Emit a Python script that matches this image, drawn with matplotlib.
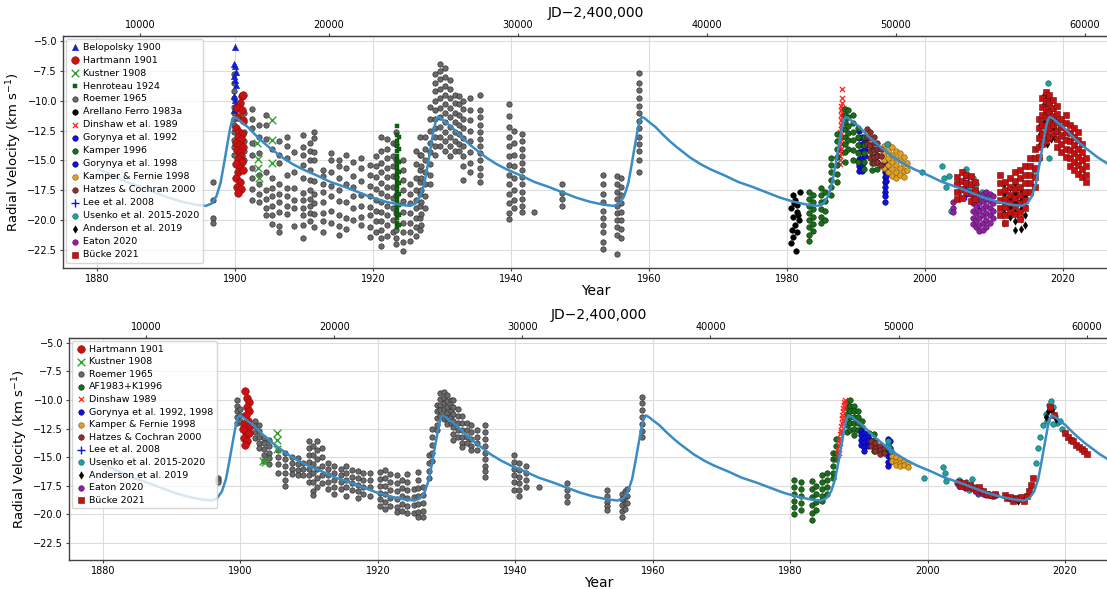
import matplotlib.pyplot as plt

# ---------------- model orbit curve (one cycle) ----------------
cyc_dt = [0.0, 0.5, 1.0, 2.0, 3.0, 4.0, 5.0, 6.0, 7.0, 8.5, 10.0, 12.0, 14.0, 16.0,
          18.0, 20.0, 22.0, 24.0, 25.5, 26.3, 27.0, 27.6, 28.1, 28.6, 29.0, 29.3, 29.55]
cyc_rv = [-11.35, -11.5, -11.75, -12.2, -12.8, -13.35, -13.85, -14.3, -14.75, -15.3,
          -15.75, -16.25, -16.8, -17.2, -17.65, -18.1, -18.45, -18.7, -18.8, -18.6,
          -18.0, -16.9, -15.3, -13.6, -12.3, -11.6, -11.35]
peaks = [1870.3, 1899.85, 1929.4, 1958.95, 1988.5, 2018.05]
curve_start = 1880.0

# ---------------- top panel data ----------------
bel_yr = [1900.0, 1899.9, 1900.0, 1900.1, 1899.9, 1900.0, 1900.1, 1899.9, 1900.0, 1900.1, 1900.0, 1899.9]
bel_rv = [-5.5, -6.9, -7.1, -7.6, -7.9, -8.3, -8.7, -9.6, -9.9, -10.3, -10.6, -10.8]

hart_t_yr = [1901.0, 1901.2, 1900.7, 1900.3, 1901.0, 1900.5, 1901.1, 1900.2, 1900.6, 1901.0,
             1900.4, 1900.8, 1900.2, 1900.6, 1901.1, 1900.3, 1900.7, 1900.9, 1900.4, 1901.0,
             1900.2, 1900.7, 1900.5, 1901.1, 1900.2, 1900.7, 1900.3, 1900.8, 1900.4]
hart_t_rv = [-9.6, -9.5, -10.2, -10.6, -10.8, -11.4, -11.6, -12.3, -12.6, -12.8,
             -13.0, -13.2, -13.5, -13.7, -13.9, -14.1, -14.3, -14.6, -14.9, -15.1,
             -15.3, -15.6, -16.0, -15.8, -16.5, -16.8, -17.2, -17.4, -17.7]

kus_t_yr = [1903.2, 1903.4, 1903.3, 1903.5, 1905.3, 1905.3, 1905.3]
kus_t_rv = [-13.5, -14.9, -15.6, -16.5, -11.6, -13.3, -15.2]

hen_seasons = [1923.5, 1923.7]
hen_rv = [[-12.1, -12.9, -13.4, -13.8, -14.2, -14.6, -15.0, -15.3, -15.6, -15.9, -16.2, -16.5,
           -16.8, -17.1, -17.4, -17.7, -18.0, -18.3, -18.6, -18.9, -19.2, -19.5, -19.8, -20.2, -20.6],
          [-13.0, -14.0, -15.1, -16.0, -16.9, -17.8, -18.7, -19.6, -20.4]]

rm_t_seasons = [1896.8, 1899.8, 1901.3, 1902.4, 1903.5, 1904.5, 1905.3, 1906.4, 1907.5, 1908.6,
                1909.8, 1910.8, 1911.5, 1912.7, 1913.9, 1915.1, 1916.1, 1917.1, 1918.3, 1919.6,
                1920.4, 1921.2, 1922.0, 1922.9, 1923.3, 1924.4, 1925.3, 1926.3, 1926.8, 1927.0,
                1927.5, 1928.3, 1929.0, 1929.7, 1930.4, 1931.2, 1931.9, 1932.4, 1933.1, 1934.1,
                1935.5, 1939.7, 1940.4, 1941.6, 1943.3, 1947.4, 1953.3, 1955.4, 1955.9, 1958.6]
rm_t_rv = [
    [-16.8, -18.3, -19.8, -20.2],
    [-7.8, -8.5, -9.2, -9.8, -10.5, -11.0, -11.5, -12.0, -12.6, -13.3, -13.9, -14.5],
    [-11.0, -11.8, -12.6, -13.4, -14.2, -15.0],
    [-10.7, -11.5, -12.3, -13.5, -14.5, -15.6, -16.5, -17.4, -18.3],
    [-12.0, -13.0, -14.4, -16.2, -17.0, -17.8, -18.5],
    [-11.2, -12.0, -13.2, -16.0, -17.5, -18.2, -19.0, -19.6],
    [-14.0, -16.5, -17.3, -18.0, -18.8, -19.6, -20.3],
    [-13.4, -14.5, -15.2, -17.0, -17.8, -18.5, -19.3, -20.5, -21.0],
    [-13.0, -13.8, -14.8, -16.2, -17.3, -18.0, -18.8, -19.5],
    [-14.3, -16.0, -17.3, -18.3, -19.0, -20.5],
    [-12.9, -13.9, -14.5, -15.4, -16.5, -17.7, -18.3, -19.0, -19.6, -20.4, -21.5],
    [-13.5, -14.2, -15.0, -15.8, -16.6, -17.5, -18.2, -18.8, -19.4, -20.1],
    [-12.6, -13.1, -14.3, -15.0, -16.7, -17.8, -18.6, -19.5, -20.6],
    [-15.8, -16.3, -17.0, -17.6, -18.5, -19.4, -20.1, -21.0],
    [-14.4, -15.0, -16.0, -17.1, -18.0, -19.2, -20.2],
    [-15.0, -15.5, -16.5, -17.5, -18.4, -19.6, -20.5, -21.2],
    [-14.5, -15.6, -17.0, -18.5, -19.8, -20.7],
    [-15.1, -16.3, -17.2, -18.0, -19.0, -20.0],
    [-14.8, -15.6, -16.7, -17.9, -18.8, -19.7, -20.4],
    [-15.4, -16.2, -17.1, -18.0, -18.9, -19.6, -20.6, -21.4],
    [-14.6, -15.5, -16.4, -17.4, -18.3, -19.2, -20.1, -21.0],
    [-13.0, -14.2, -15.2, -16.0, -16.9, -17.7, -18.5, -19.3, -20.1, -20.8, -21.5, -22.2],
    [-13.2, -14.0, -14.8, -15.6, -16.4, -17.2, -18.0, -18.8, -19.6, -20.4, -21.3],
    [-13.5, -14.6, -15.5, -16.3, -17.2, -18.1, -19.0, -20.0, -21.0],
    [-12.6, -13.6, -15.0, -16.4, -17.9, -19.4, -20.8, -21.5, -22.0],
    [-15.0, -15.8, -16.6, -17.5, -18.4, -19.3, -20.2, -21.0, -21.8, -22.6],
    [-17.0, -17.8, -18.6, -19.4, -20.2, -21.0, -21.7],
    [-14.2, -15.3, -16.5, -17.5, -18.3, -19.0, -19.8, -20.6, -21.3],
    [-13.0, -14.5, -15.8, -16.8, -17.8, -18.8, -19.8, -20.8],
    [-14.5, -15.5, -16.5, -17.5, -18.5, -19.5, -20.4],
    [-13.0, -14.0, -15.0, -16.0, -17.0, -18.0, -19.0],
    [-10.5, -11.5, -12.5, -13.5, -14.3, -15.3, -16.2, -17.0],
    [-7.8, -8.5, -9.2, -10.0, -10.8, -11.5, -12.3, -13.0, -13.8, -14.5],
    [-6.9, -7.5, -8.2, -9.0, -9.8, -10.6, -11.4, -12.2, -13.0, -13.8],
    [-7.3, -8.0, -8.8, -9.5, -10.3, -11.0, -11.8, -12.6, -13.4, -14.2],
    [-8.3, -9.0, -9.8, -10.6, -11.4, -12.2, -13.0, -13.8, -14.6],
    [-9.5, -10.2, -11.0, -11.8, -12.6, -13.4, -14.2],
    [-9.6, -10.3, -11.2, -12.0, -12.8, -13.6, -14.2],
    [-10.0, -10.7, -11.5, -12.3, -13.1, -13.8, -14.6, -15.5, -16.6],
    [-9.8, -10.8, -11.6, -12.5, -13.4, -14.3, -15.2, -16.0],
    [-9.5, -10.8, -11.4, -12.0, -12.6, -13.2, -13.8, -14.4, -15.0, -15.6, -16.2, -16.8],
    [-10.3, -11.3, -12.2, -13.0, -13.8, -14.6, -15.4, -16.2, -17.0, -17.8, -18.6, -19.4, -19.9],
    [-12.5, -13.5, -14.5, -15.5, -16.5, -17.5, -18.3, -19.0],
    [-12.8, -13.4, -14.0, -14.6, -15.2, -15.8, -16.4, -17.0, -17.6, -18.2, -18.8, -19.3],
    [-19.3],
    [-17.0, -17.7, -18.2, -18.8],
    [-16.2, -17.0, -17.8, -18.5, -19.2, -19.8, -20.4, -21.0, -21.8, -22.4],
    [-16.3, -17.0, -17.6, -18.2, -18.8, -19.4, -20.0, -20.6, -21.2, -22.8],
    [-16.5, -17.2, -17.9, -18.6, -19.3, -20.0, -20.7, -21.5],
    [-7.7, -8.5, -9.1, -9.8, -10.4, -11.0, -11.7, -12.3, -13.0, -13.6, -14.2, -15.0, -16.0],
]

af_t_yr = [1981.9, 1980.8, 1981.2, 1981.5, 1980.6, 1981.4, 1980.9, 1981.7, 1981.2, 1980.7,
           1981.5, 1980.8, 1980.6, 1981.3, 1981.0, 1981.6]
af_t_rv = [-17.6, -17.9, -18.3, -18.7, -19.0, -19.3, -19.7, -20.0, -20.4, -20.8,
           -21.0, -21.4, -21.9, -22.6, -18.6, -19.6]

din_t_seasons = [1987.7, 1987.85, 1988.0]
din_t_rv = [[-12.6, -13.0, -13.4, -13.8, -14.2, -14.6, -15.0, -15.3],
            [-10.4, -10.8, -11.2, -11.6, -12.0, -12.4, -12.8, -13.2, -13.6, -14.0, -14.4],
            [-9.0, -9.8, -10.2, -10.6, -11.0, -11.4, -11.8, -12.2]]

gor92_seasons = [1990.4, 1990.9, 1991.3]
gor92_rv = [[-12.5, -13.1, -13.7, -14.3, -14.9, -15.5, -15.9],
            [-13.0, -13.6, -14.2, -14.8, -15.4, -15.9],
            [-13.4, -14.0, -14.6]]

kam96_seasons = [1983.2, 1983.7, 1984.9, 1985.5, 1986.4, 1987.2, 1988.4, 1988.9, 1989.5,
                 1990.3, 1991.2, 1992.3, 1993.0]
kam96_rv = [[-17.6, -18.2, -18.8, -19.4, -20.0, -20.6, -21.2, -21.7],
            [-17.9, -18.5, -19.1, -19.7, -20.3, -20.9],
            [-17.3, -17.9, -18.5, -19.1, -19.7, -20.2],
            [-17.6, -18.4, -19.2, -20.0],
            [-14.8, -15.4, -16.0, -16.6, -17.2, -17.9],
            [-12.8, -13.4, -14.0, -14.7, -15.4, -16.1, -16.8],
            [-10.7, -11.2, -11.8, -12.4, -13.0, -13.6, -14.3, -15.1],
            [-10.8, -11.4, -12.1, -12.7, -13.3, -14.0],
            [-11.2, -11.9, -12.6, -13.3, -14.1, -15.0],
            [-12.3, -13.0, -13.7, -14.4, -15.1],
            [-13.0, -13.7, -14.4, -15.1, -15.7],
            [-14.0, -14.6, -15.2, -15.8],
            [-14.5, -15.1, -15.7]]

gor98_seasons = [1994.2, 1994.4]
gor98_rv = [[-15.2, -15.6, -16.0, -16.4, -16.8, -17.2, -17.6, -18.0, -18.5],
            [-15.4, -15.9, -16.3, -16.7]]

kf_t_seasons = [1994.0, 1994.6, 1995.2, 1995.8, 1996.4, 1997.0, 1997.4]
kf_t_rv = [[-13.8, -14.4, -15.0, -15.6],
           [-13.6, -14.2, -14.8, -15.4, -16.0],
           [-13.9, -14.5, -15.1, -15.7, -16.3],
           [-14.2, -14.8, -15.4, -16.0, -16.5],
           [-14.4, -15.0, -15.6, -16.2],
           [-14.7, -15.3, -15.9, -16.4],
           [-15.2, -15.8]]

hc_t_seasons = [1991.6, 1992.1, 1992.6, 1993.1, 1993.6]
hc_t_rv = [[-12.4, -13.0, -13.6],
           [-12.6, -13.1, -13.7, -14.2, -14.8],
           [-13.0, -13.5, -14.1, -14.7, -15.2],
           [-13.5, -14.0, -14.6, -15.1],
           [-14.0, -14.6, -15.4]]

lee_t_yr = [2005.5, 2005.9, 2006.3, 2006.6, 2007.0, 2007.3, 2007.6, 2007.9, 2006.0]
lee_t_rv = [-16.6, -17.2, -16.5, -17.8, -17.1, -18.4, -17.6, -19.0, -18.0]

us_t_yr = [1994.5, 1999.6, 2002.5, 2002.7, 2003.0, 2003.5, 2003.8, 2004.6, 2005.0, 2005.5,
           2006.0, 2006.5, 2007.0, 2007.4, 2007.8, 2008.3, 2009.0, 2016.0, 2016.5, 2017.0,
           2017.4, 2017.8, 2018.0, 2018.4, 2018.8, 2019.2, 2019.6, 2020.0, 2019.8]
us_t_rv = [-13.6, -16.0, -15.5, -16.5, -17.2, -16.3, -19.2, -16.9, -17.6, -16.0,
           -15.7, -17.3, -16.5, -17.0, -18.2, -17.6, -17.9, -15.8, -14.9, -13.0,
           -11.6, -8.5, -14.8, -12.0, -11.5, -12.6, -12.2, -13.0, -11.8]

and_t_seasons = [2011.5, 2012.3, 2013.1, 2013.9, 2014.5, 2016.6, 2017.2, 2017.7, 2018.2, 2018.7]
and_t_rv = [[-17.0, -17.8, -18.6, -19.4, -20.2],
            [-17.3, -18.1, -18.9, -19.7],
            [-16.9, -17.7, -18.5, -19.3, -20.1, -20.8],
            [-17.5, -18.3, -19.1, -19.9, -20.7],
            [-18.0, -18.8, -19.6, -20.4],
            [-12.0, -12.8, -13.6],
            [-9.5, -10.3, -11.1, -11.9, -12.7, -13.5],
            [-9.8, -10.6, -11.4, -12.2, -13.0, -13.6],
            [-10.0, -10.8, -11.6, -12.4, -13.2],
            [-10.6, -11.4, -12.2, -13.0]]

eat_t_seasons = [2004.0, 2006.9, 2007.4, 2007.9, 2008.4, 2008.9, 2009.4, 2009.9]
eat_t_rv = [[-18.5, -19.0, -19.3],
            [-18.0, -18.6, -19.2, -19.8, -20.3],
            [-17.6, -18.2, -18.8, -19.4, -20.0, -20.6],
            [-18.0, -18.6, -19.2, -19.8, -20.4, -20.9],
            [-17.8, -18.4, -19.0, -19.6, -20.2, -20.8],
            [-17.6, -18.2, -18.8, -19.4, -20.0, -20.6],
            [-17.8, -18.4, -19.0, -19.6, -20.2],
            [-18.0, -18.6, -19.2, -19.8]]

bu_t_seasons = [2004.6, 2005.3, 2006.0, 2006.7, 2007.3, 2010.9, 2011.6, 2012.3, 2013.0, 2013.8,
                2014.5, 2015.2, 2015.9, 2016.5, 2017.0, 2017.5, 2018.0, 2018.6, 2019.1, 2019.7,
                2020.4, 2021.0, 2021.6, 2022.2, 2022.8, 2023.3]
bu_t_rv = [[-16.4, -17.0, -17.6, -18.2], [-16.0, -16.7, -17.4, -18.1], [-16.2, -16.9, -17.6],
           [-16.3, -17.0, -17.7, -18.4], [-16.8, -17.5, -18.2],
           [-16.2, -16.9, -17.6, -18.3, -19.0, -19.6], [-16.8, -17.5, -18.2, -18.9, -19.6, -20.2],
           [-16.5, -17.2, -17.9, -18.6, -19.3], [-16.0, -16.7, -17.4, -18.1, -18.8, -19.5],
           [-15.8, -16.5, -17.2, -17.9, -18.6, -19.3, -19.9], [-15.5, -16.2, -16.9, -17.6, -18.3, -19.0],
           [-14.8, -15.5, -16.2, -16.9, -17.6], [-14.0, -14.8, -15.6, -16.4, -17.2],
           [-11.5, -12.3, -13.1, -13.9, -14.7], [-9.8, -10.5, -11.2, -12.0, -12.8, -13.6],
           [-9.3, -10.0, -10.7, -11.4, -12.1, -12.8, -13.4], [-9.5, -10.2, -10.9, -11.6, -12.3, -13.0],
           [-9.9, -10.6, -11.3, -12.0, -12.7], [-10.4, -11.1, -11.8, -12.5, -13.2, -13.9],
           [-11.5, -12.2, -12.9, -13.6, -14.3], [-11.2, -11.9, -12.6, -13.3, -14.0, -14.7],
           [-12.0, -12.7, -13.4, -14.1, -14.8, -15.5], [-12.3, -13.0, -13.7, -14.4, -15.1, -15.8],
           [-12.6, -13.3, -14.0, -14.7, -15.4, -16.1], [-13.6, -14.3, -15.0, -15.7, -16.4],
           [-14.8, -15.5, -16.2, -16.8]]

# ---------------- bottom panel data ----------------
hart_b_yr = [1900.6, 1901.0, 1901.2, 1900.9, 1901.3, 1900.8, 1901.1, 1900.5, 1901.2, 1900.7,
             1901.0, 1900.5, 1900.9, 1900.6, 1901.3, 1900.4]
hart_b_rv = [-9.2, -9.8, -10.2, -10.6, -11.0, -11.3, -11.8, -12.1, -12.4, -12.7,
             -13.0, -13.3, -13.6, -13.9, -12.9, -12.5]

kus_b_yr = [1903.3, 1903.6, 1905.3, 1905.3, 1905.3]
kus_b_rv = [-15.3, -15.4, -12.9, -13.5, -14.3]

rm_b_seasons = [1896.7, 1899.5, 1899.9, 1902.1, 1902.7, 1903.4, 1904.2, 1905.5, 1906.5, 1907.5,
                1908.4, 1909.1, 1910.0, 1910.5, 1911.2, 1911.8, 1912.8, 1913.6, 1914.6, 1915.4,
                1916.3, 1917.1, 1917.9, 1918.9, 1920.3, 1921.0, 1921.7, 1922.8, 1923.5, 1924.2,
                1925.2, 1925.8, 1926.6, 1927.4, 1927.9, 1928.6, 1929.1, 1929.6, 1930.1, 1930.6,
                1931.0, 1931.6, 1932.3, 1933.0, 1933.5, 1934.4, 1935.6, 1939.8, 1940.6, 1941.6,
                1943.4, 1947.5, 1953.3, 1955.5, 1956.0, 1956.3, 1958.5]
rm_b_rv = [
    [-16.8, -17.0, -17.2], [-10.0, -10.5, -11.0, -11.5, -12.0], [-10.8, -11.3, -11.8],
    [-11.8, -12.3, -12.8, -13.3], [-12.2, -12.7, -13.2, -13.8, -14.2],
    [-13.3, -13.8, -14.3, -14.8, -15.3], [-13.5, -14.0, -14.6, -15.1, -15.6],
    [-14.4, -15.0, -15.6, -16.4], [-14.6, -15.2, -15.8, -16.4, -17.0, -17.5],
    [-15.0, -15.5, -16.0, -16.5], [-15.1, -15.6, -16.1, -16.6], [-15.5, -16.0, -16.6],
    [-13.6, -14.2, -14.8, -15.4, -16.0, -16.6, -17.2], [-14.0, -14.8, -15.6, -16.4, -17.2, -18.0, -18.3],
    [-13.6, -14.4, -15.2, -16.0, -16.8, -17.6], [-14.2, -15.0, -15.8, -16.6, -17.3],
    [-15.5, -16.0, -16.6, -17.2, -17.8], [-15.8, -16.4, -17.0, -17.6, -18.2],
    [-16.0, -16.6, -17.2, -17.8], [-15.8, -16.4, -17.0, -17.6, -18.4],
    [-16.1, -16.7, -17.3, -17.9], [-16.2, -16.8, -17.4, -18.0, -18.6],
    [-16.4, -17.0, -17.6, -18.2], [-16.4, -17.0, -17.6, -18.4],
    [-16.3, -16.9, -17.5, -18.1, -18.7, -19.3], [-16.1, -16.8, -17.5, -18.2, -18.9, -19.5],
    [-16.5, -17.2, -17.9, -18.6, -19.3], [-16.6, -17.3, -18.0, -18.7, -19.4, -19.8],
    [-17.0, -17.7, -18.4, -19.1, -19.7], [-16.5, -17.2, -17.9, -18.6, -19.3, -19.9],
    [-17.8, -18.5, -19.2, -19.9], [-16.3, -17.0, -17.7, -18.4, -19.1, -19.8, -20.2],
    [-17.6, -18.3, -19.0, -19.7, -20.2], [-14.8, -15.5, -16.2, -16.8],
    [-12.5, -13.2, -13.9, -14.6, -15.3], [-10.4, -11.0, -11.6, -12.2, -12.6],
    [-9.4, -9.9, -10.4, -10.9, -11.4], [-9.3, -9.8, -10.3, -10.8, -11.3, -11.7],
    [-9.6, -10.1, -10.6, -11.1, -11.6, -12.1], [-10.0, -10.5, -11.0, -11.5, -12.0],
    [-10.0, -10.6, -11.2, -11.8, -12.4, -13.0, -13.5], [-10.8, -11.4, -12.0, -12.6, -13.2],
    [-11.4, -12.0, -12.6, -13.2, -13.8, -14.1], [-12.0, -12.6, -13.2, -13.8],
    [-12.2, -12.8, -13.4, -14.0, -14.4], [-12.6, -13.2, -13.8, -14.4],
    [-12.2, -12.8, -13.4, -14.0, -14.6, -15.2, -15.8, -16.2, -16.7],
    [-14.8, -15.4, -16.0, -16.6, -17.2, -17.9], [-15.5, -16.1, -16.7, -17.3, -17.9, -18.4],
    [-15.8, -16.4, -17.0, -17.6], [-17.6], [-17.3, -17.9, -18.4, -18.9],
    [-17.9, -18.4, -18.9, -19.3, -19.6], [-18.2, -18.7, -19.2, -19.7, -20.2],
    [-18.0, -18.5, -19.0, -19.5], [-17.8, -18.4, -19.0],
    [-9.7, -10.3, -10.9, -11.5, -12.1, -12.7, -13.2],
]

afk_seasons = [1980.5, 1981.5, 1983.2, 1983.7, 1984.6, 1985.4, 1986.2, 1986.7, 1988.2, 1988.7,
               1989.3, 1989.8, 1990.4, 1991.4, 1992.2]
afk_rv = [[-17.0, -17.6, -18.2, -18.8, -19.4, -20.0], [-17.2, -17.8, -18.4, -19.0, -19.6],
          [-17.1, -17.8, -18.5, -19.2, -19.9, -20.5], [-17.5, -18.2, -18.9, -19.6],
          [-16.6, -17.2, -17.8, -18.4, -18.8], [-16.4, -17.0, -17.6, -18.2],
          [-14.6, -15.2, -15.8, -16.4, -16.8], [-13.4, -14.0, -14.6, -15.2],
          [-10.2, -10.7, -11.2, -11.7, -12.2, -12.8], [-10.0, -10.5, -11.0, -11.5, -12.0, -12.6],
          [-10.5, -11.0, -11.5, -12.0, -12.5, -13.1], [-11.0, -11.5, -12.0, -12.6],
          [-11.8, -12.4, -13.0], [-12.9, -13.4, -13.9], [-13.0, -13.5, -14.0, -14.5]]

din_b_yr = [1986.9, 1987.0, 1987.1, 1987.15, 1987.2, 1987.3, 1987.35, 1987.4, 1987.5, 1987.55,
            1987.6, 1987.7, 1987.75, 1987.8, 1987.85, 1987.9, 1987.05, 1987.25, 1987.45, 1987.65]
din_b_rv = [-14.8, -14.4, -14.0, -13.6, -13.3, -13.0, -12.6, -12.3, -12.0, -11.6,
            -11.3, -11.0, -10.7, -10.4, -10.2, -10.0, -14.6, -13.8, -12.8, -11.8]

gor_b_seasons = [1990.3, 1990.8, 1991.3, 1994.2, 1994.5]
gor_b_rv = [[-12.7, -13.1, -13.5, -13.9], [-12.9, -13.3, -13.7, -14.1, -14.5], [-13.2, -13.6, -14.0],
            [-13.4, -13.9, -14.4, -14.9, -15.4, -15.8], [-13.6, -14.2, -14.8, -15.4]]

kf_b_seasons = [1994.8, 1995.4, 1996.0, 1996.6, 1997.2]
kf_b_rv = [[-14.9, -15.3], [-15.0, -15.4, -15.7], [-15.2, -15.5, -15.8], [-15.3, -15.7], [-15.5, -15.9]]

hc_b_seasons = [1991.8, 1992.4, 1993.0, 1993.6]
hc_b_rv = [[-13.6, -14.0], [-13.8, -14.2, -14.5], [-14.0, -14.4, -14.7], [-14.2, -14.6]]

lee_b_yr = [2005.6, 2006.0, 2006.4, 2006.8, 2007.2, 2007.6]
lee_b_rv = [-17.4, -17.6, -17.5, -17.9, -17.8, -18.0]

us_b_yr = [1994.2, 1994.4, 1994.6, 1994.3, 1999.5, 2002.3, 2002.5, 2002.6, 2004.5, 2005.0,
           2005.6, 2006.0, 2006.4, 2006.8, 2007.3, 2007.8, 2008.3, 2009.0, 2015.8, 2016.1,
           2016.4, 2016.8, 2017.2, 2017.6, 2017.9, 2018.2, 2018.5, 2018.8, 2019.2, 2019.6,
           2017.4, 2018.3]
us_b_rv = [-13.9, -14.2, -14.5, -13.6, -16.8, -15.9, -16.4, -17.1, -17.0, -17.5,
           -17.2, -17.9, -16.9, -17.6, -18.2, -17.9, -18.1, -18.3, -15.5, -14.2,
           -13.2, -12.2, -11.2, -10.4, -10.1, -10.6, -11.4, -12.0, -11.8, -12.5,
           -11.8, -12.1]

and_b_yr = [2011.4, 2011.9, 2012.5, 2013.1, 2013.7, 2014.1, 2017.2, 2017.5, 2017.8, 2018.1, 2018.4, 2018.7]
and_b_rv = [-18.4, -18.6, -18.7, -18.8, -18.6, -18.5, -11.5, -11.0, -10.8, -10.9, -11.3, -11.7]

eat_b_yr = [2004.2, 2004.6, 2005.0, 2005.4, 2006.9, 2007.3, 2007.7, 2008.1, 2008.5, 2008.9,
            2009.3, 2009.7, 2010.0]
eat_b_rv = [-17.3, -17.5, -17.4, -17.7, -17.9, -18.1, -18.0, -18.2, -18.3, -18.2,
            -18.4, -18.4, -18.3]

bu_b_yr = [2004.5, 2004.9, 2005.3, 2005.8, 2006.2, 2006.6, 2007.0, 2007.4, 2008.0, 2008.6,
           2009.2, 2009.8, 2011.2, 2011.6, 2012.0, 2012.4, 2012.8, 2013.2, 2013.6, 2014.0,
           2014.4, 2014.8, 2015.1, 2015.4, 2017.8, 2018.4, 2020.0, 2020.4, 2020.8, 2021.2,
           2021.6, 2022.0, 2022.4, 2022.8, 2023.2]
bu_b_rv = [-17.2, -17.5, -17.3, -17.6, -17.4, -17.7, -17.9, -17.6, -18.0, -18.2,
           -18.3, -18.2, -18.3, -18.6, -18.5, -18.8, -18.6, -18.7, -18.5, -18.8,
           -18.4, -18.0, -17.4, -16.8, -10.6, -11.3, -12.9, -13.2, -13.5, -13.6,
           -13.9, -14.1, -14.3, -14.5, -14.7]


def cols(seasons, values):
    x = [s for s, v in zip(seasons, values) for _ in v]
    y = [r for v in values for r in v]
    return x, y


# marker styles per data set
ST = {
    'bel': dict(marker='^', color='#1020d0', s=22, lw=0.3, ec='#1020d0'),
    'hart': dict(marker='o', color='#cc1010', s=30, lw=0.4, ec='#801010'),
    'kus': dict(marker='x', color='#30a030', s=30, lw=1.0),
    'hen': dict(marker='s', color='#0e6a0e', s=10, lw=0.3, ec='#063806'),
    'rm': dict(marker='o', color='#6a6a6a', s=15, lw=0.5, ec='#333333'),
    'af': dict(marker='o', color='#000000', s=16, lw=0.4, ec='#000000'),
    'din': dict(marker='x', color='#ff2222', s=14, lw=0.9),
    'blue': dict(marker='o', color='#1010e0', s=16, lw=0.4, ec='#000070'),
    'kam': dict(marker='o', color='#1a6e1a', s=16, lw=0.4, ec='#0a300a'),
    'kf': dict(marker='o', color='#e0a020', s=16, lw=0.4, ec='#805010'),
    'hc': dict(marker='o', color='#8b3030', s=16, lw=0.4, ec='#401010'),
    'lee': dict(marker='+', color='#1010e0', s=30, lw=1.0),
    'us': dict(marker='o', color='#20a0a0', s=16, lw=0.4, ec='#106060'),
    'and': dict(marker='d', color='#000000', s=14, lw=0.4, ec='#000000'),
    'eat': dict(marker='o', color='#9020a0', s=16, lw=0.4, ec='#501060'),
    'bu': dict(marker='s', color='#c81010', s=16, lw=0.4, ec='#701010'),
}


def pts(ax, key, x, y, label, z=3):
    st = dict(ST[key])
    lw = st.pop('lw')
    ec = st.pop('ec', None)
    kw = dict(marker=st['marker'], s=st['s'], label=label, zorder=z, linewidths=lw)
    if ec is None:
        kw['c'] = st['color']
    else:
        kw['facecolor'] = st['color']
        kw['edgecolor'] = ec
    ax.scatter(x, y, **kw)


def yr2jd(y):
    return (y - 2000.0) * 365.25 + 51544.5


def jd2yr(j):
    return (j - 51544.5) / 365.25 + 2000.0


fig = plt.figure(figsize=(11.07, 5.89), dpi=100)
W, H = 1107, 589
ax1 = fig.add_axes([63 / W, (H - 268) / H, (1129 - 63) / W, 232 / H])
ax2 = fig.add_axes([69 / W, (H - 560) / H, (1129 - 69) / W, 222 / H])

# curve points
cx, cy = [], []
for p in peaks:
    for dt, rv in zip(cyc_dt, cyc_rv):
        if p + dt >= curve_start:
            cx.append(p + dt)
            cy.append(rv)

# ---- top panel
pts(ax1, 'bel', bel_yr, bel_rv, 'Belopolsky 1900')
pts(ax1, 'hart', hart_t_yr, hart_t_rv, 'Hartmann 1901')
pts(ax1, 'kus', kus_t_yr, kus_t_rv, 'Kustner 1908')
pts(ax1, 'hen', *cols(hen_seasons, hen_rv), 'Henroteau 1924')
pts(ax1, 'rm', *cols(rm_t_seasons, rm_t_rv), 'Roemer 1965', z=2)
pts(ax1, 'af', af_t_yr, af_t_rv, 'Arellano Ferro 1983a')
pts(ax1, 'din', *cols(din_t_seasons, din_t_rv), 'Dinshaw et al. 1989')
pts(ax1, 'blue', *cols(gor92_seasons, gor92_rv), 'Gorynya et al. 1992')
pts(ax1, 'kam', *cols(kam96_seasons, kam96_rv), 'Kamper 1996')
pts(ax1, 'blue', *cols(gor98_seasons, gor98_rv), 'Gorynya et al. 1998')
pts(ax1, 'kf', *cols(kf_t_seasons, kf_t_rv), 'Kamper & Fernie 1998')
pts(ax1, 'hc', *cols(hc_t_seasons, hc_t_rv), 'Hatzes & Cochran 2000')
pts(ax1, 'lee', lee_t_yr, lee_t_rv, 'Lee et al. 2008')
pts(ax1, 'us', us_t_yr, us_t_rv, 'Usenko et al. 2015-2020')
pts(ax1, 'and', *cols(and_t_seasons, and_t_rv), 'Anderson et al. 2019')
pts(ax1, 'eat', *cols(eat_t_seasons, eat_t_rv), 'Eaton 2020')
pts(ax1, 'bu', *cols(bu_t_seasons, bu_t_rv), 'Bücke 2021')
ax1.plot(cx, cy, color='#3a8cc4', lw=1.8, zorder=4)

# ---- bottom panel
pts(ax2, 'hart', hart_b_yr, hart_b_rv, 'Hartmann 1901')
pts(ax2, 'kus', kus_b_yr, kus_b_rv, 'Kustner 1908')
pts(ax2, 'rm', *cols(rm_b_seasons, rm_b_rv), 'Roemer 1965', z=2)
pts(ax2, 'kam', *cols(afk_seasons, afk_rv), 'AF1983+K1996')
pts(ax2, 'din', din_b_yr, din_b_rv, 'Dinshaw 1989')
pts(ax2, 'blue', *cols(gor_b_seasons, gor_b_rv), 'Gorynya et al. 1992, 1998')
pts(ax2, 'kf', *cols(kf_b_seasons, kf_b_rv), 'Kamper & Fernie 1998')
pts(ax2, 'hc', *cols(hc_b_seasons, hc_b_rv), 'Hatzes & Cochran 2000')
pts(ax2, 'lee', lee_b_yr, lee_b_rv, 'Lee et al. 2008')
pts(ax2, 'us', us_b_yr, us_b_rv, 'Usenko et al. 2015-2020')
pts(ax2, 'and', and_b_yr, and_b_rv, 'Anderson et al. 2019')
pts(ax2, 'eat', eat_b_yr, eat_b_rv, 'Eaton 2020')
pts(ax2, 'bu', bu_b_yr, bu_b_rv, 'Bücke 2021')
ax2.plot(cx, cy, color='#3a8cc4', lw=1.8, zorder=4)

for ax, xl, lsp in ((ax1, (1875.07, 2029.57), 0.42), (ax2, (1875.05, 2029.3), 0.38)):
    ax.set_xlim(*xl)
    ax.set_ylim(-24.0, -4.58)
    ax.set_xticks([1880, 1900, 1920, 1940, 1960, 1980, 2000, 2020])
    ax.set_yticks([-22.5, -20.0, -17.5, -15.0, -12.5, -10.0, -7.5, -5.0])
    ax.grid(True, color='#dcdcdc', lw=0.8)
    ax.set_axisbelow(True)
    ax.tick_params(labelsize=7, length=2.5, pad=1.8, color='#444444')
    for sp in ax.spines.values():
        sp.set_color('#444444')
        sp.set_linewidth(1.0)
    ax.set_ylabel('Radial Velocity (km s$^{-1}$)', fontsize=9.5, labelpad=2)
    ax.set_xlabel('Year', fontsize=10, labelpad=0)
    sec = ax.secondary_xaxis('top', functions=(yr2jd, jd2yr))
    sec.set_xticks([10000, 20000, 30000, 40000, 50000, 60000])
    sec.tick_params(labelsize=7, length=2.5, pad=1.8, color='#444444')
    sec.set_xlabel('JD−2,400,000', fontsize=10, labelpad=2)
    ax.legend(loc='upper left', fontsize=6.8, labelspacing=lsp, borderaxespad=0.3,
              handletextpad=0.2, borderpad=0.4, handlelength=1.2, framealpha=0.8)

fig.savefig('out.png', dpi=100)
